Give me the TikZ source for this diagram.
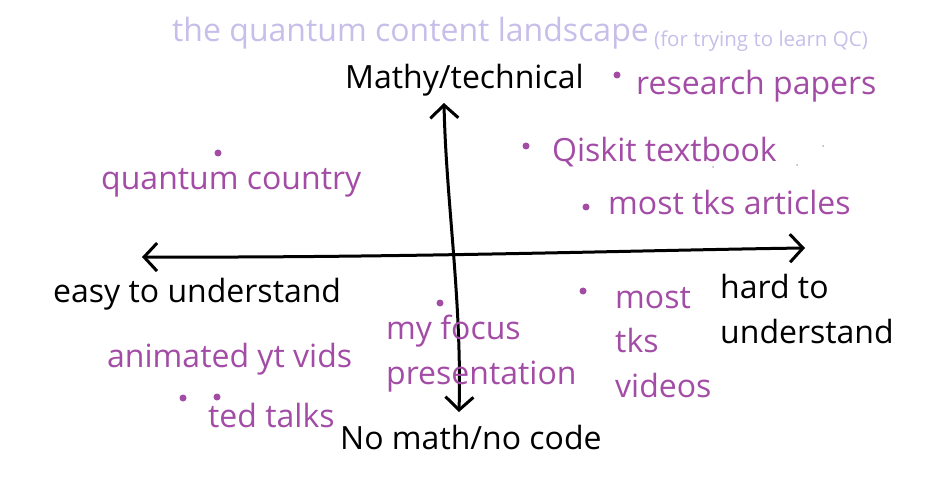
\documentclass[tikz,border=0pt]{standalone}
\usepackage{fontspec}
\setmainfont{Open Sans}
\usetikzlibrary{arrows.meta,positioning}
\definecolor{qpurple}{RGB}{163,76,166}
\definecolor{qlav}{RGB}{199,190,233}

\begin{document}
\begin{tikzpicture}[
  x=1pt, y=-1pt,
  lbl/.style={anchor=base west, inner sep=0pt, font=\fontsize{32}{44.5}\selectfont},
  item/.style={lbl, text=qpurple},
  spot/.style={fill=qpurple, circle, inner sep=0pt, minimum size=7pt},
  speck/.style={fill=gray!60, circle, inner sep=0pt, minimum size=2pt},
  axis/.style={line width=3pt, line cap=round, {Straight Barb[length=13pt,width=28pt,line width=3pt]}-{Straight Barb[length=13pt,width=28pt,line width=3pt]}}
]
\useasboundingbox (0,0) rectangle (952,494);

% title
\node[lbl, text=qlav, font=\fontsize{32}{38}\selectfont] (title) at (172,42) {the quantum content landscape};
\node[lbl, text=qlav, font=\fontsize{20.5}{24}\selectfont, right=5pt of title.base east, anchor=base west, yshift=-5pt] (subtitle) {(for trying to learn QC)};

% axes
\coordinate (west) at (142,257);
\coordinate (east) at (805,248);
\coordinate (north) at (444,103);
\coordinate (south) at (459,412);
\draw[axis] (west) .. controls (400,258) and (650,250) .. (east);
\draw[axis] (south) .. controls (462,300) and (446,200) .. (north);

% axis labels (multi-line nodes sit on their last baseline)
\node[lbl] (mathy) at (345,89) {Mathy/technical};
\node[lbl] (nomath) at (340,449) {No math/no code};
\node[lbl] (easy) at (53,302) {easy to understand};
\node[lbl, align=left] (hard) at (720,343) {hard to\\understand};

% content
\node[spot] (d1) at (617,75) {};
\node[item] (research) at (636,95) {research papers};
\node[spot] (d2) at (526,146) {};
\node[item] (qiskit) at (552,162) {Qiskit textbook};
\node[spot] (d3) at (218,153) {};
\node[item] (qcountry) at (101,190) {quantum country};
\node[spot] (d4) at (586,207) {};
\node[item] (tksart) at (608,215) {most tks articles};
\node[spot] (d5) at (440,303) {};
\node[item, align=left] (focus) at (386,384) {my focus\\presentation};
\node[spot] (d6) at (583,291) {};
\node[item, align=left] (tksvid) at (615,397) {most\\tks\\videos};
\node[item] (animyt) at (107,367) {animated yt vids};
\node[spot] (d7) at (183,398) {};
\node[spot] (d8) at (217,397) {};
\node[item] (ted) at (208,427) {ted talks};

% stray marks
\node[speck] at (823,146) {};
\node[speck] at (797,165) {};
\node[speck] at (713,167) {};
\end{tikzpicture}
\end{document}
